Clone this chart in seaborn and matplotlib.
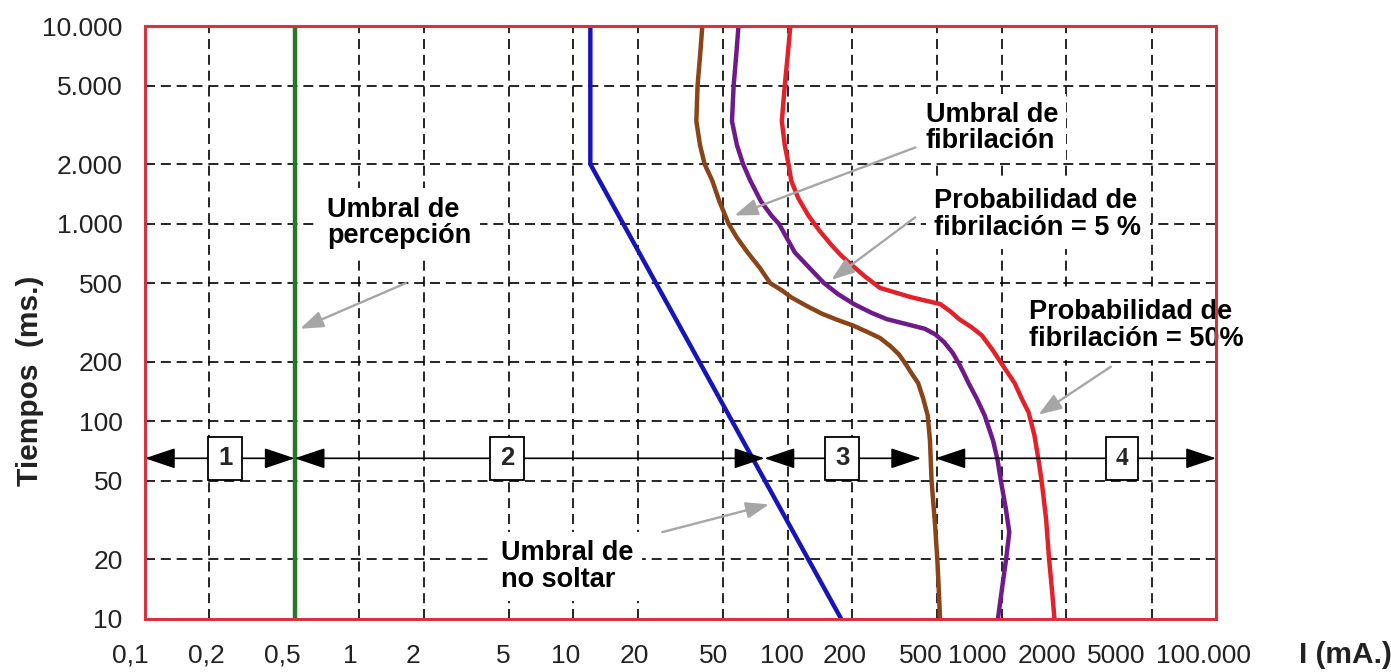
import numpy as np
import pandas as pd
import matplotlib
matplotlib.use("Agg")
import matplotlib.pyplot as plt
from matplotlib.ticker import NullLocator
from matplotlib.transforms import ScaledTranslation
import seaborn as sns

# Corriente (mA) y tiempo (ms)
green_ma = [0.5, 0.5]
green_ms = [10, 10000]

blue_ma = [12, 12, 178]
blue_ms = [10000, 2000, 10]

brown_ma = [40, 39, 38, 37.5, 39, 41, 44.5, 48, 53, 58, 65, 74, 83, 94, 104, 122, 144, 172, 204,
            236, 270, 302, 331, 356, 379, 407, 430, 451, 462, 470, 488, 500, 508, 515]
brown_ms = [10000, 7000, 5000, 3300, 2500, 2000, 1650, 1300, 1000, 850, 716, 600, 500, 460, 424,
            385, 351, 325, 304, 283, 264, 240, 218, 195, 175, 156, 130, 107, 80, 50, 30, 20, 14, 10]

purple_ma = [59, 57.5, 56, 55, 58, 62, 67, 75, 84, 91, 99, 108, 126, 148, 172, 204, 245, 290, 360,
             437, 490, 537, 590, 632, 665, 700, 765, 832, 910, 955, 990, 1045, 1084, 1047, 1000, 959]
purple_ms = [10000, 7000, 5000, 3300, 2500, 2000, 1650, 1300, 1100, 1000, 850, 716, 600, 500, 440,
             392, 355, 329, 310, 294, 275, 252, 222, 195, 175, 156, 130, 107, 80, 64, 50, 36, 27.5,
             20, 14, 10]

red_ma = [103, 100, 97, 94, 97, 101, 104, 112, 125, 141, 160, 178, 198, 230, 270, 379,
          516, 575, 632, 720, 807, 900, 1000, 1070, 1148, 1240, 1334, 1420, 1483, 1534, 1610,
          1663, 1715, 1762]
red_ms = [10000, 7000, 5000, 3300, 2500, 2000, 1650, 1350, 1100, 920, 781, 690, 621, 540, 473,
          424, 392, 360, 329, 300, 272, 232, 195, 175, 156, 130, 111, 85, 64, 50, 32, 20, 14, 10]

x_ticks = [0.1, 0.2, 0.5, 1, 2, 5, 10, 20, 50, 100, 200, 500, 1000, 2000, 5000, 10000]
x_labels = ["0,1", "0,2", "0,5", "1", "2", "5", "10", "20", "50", "100", "200",
            "500", "1000", "2000", "5000", "100.000"]
y_ticks = [10, 20, 50, 100, 200, 500, 1000, 2000, 5000, 10000]
y_labels = ["10", "20", "50", "100", "200", "500", "1.000", "2.000", "5.000", "10.000"]

# Zonas 1-4
zone_names = ["1", "2", "3", "4"]
zone_start = [0.1, 0.5, 78, 490]
zone_end = [0.5, 78, 420, 10000]
zone_box_x = [0.237, 4.9, 180, 3630]
zone_y = 65

# Textos con flecha gris: texto, posicion del texto, cola y punta de la flecha
notes = ["Umbral de\npercepción", "Umbral de\nno soltar", "Umbral de\nfibrilación",
         "Probabilidad de\nfibrilación = 5 %", "Probabilidad de\nfibrilación = 50%"]
note_xy = [(0.71, 1372), (4.6, 25), (442, 4130), (485, 1513), (1335, 414)]
note_tail = [(1.65, 500), (26, 27.5), (395, 2430), (394, 1076), (3230, 189)]
note_tip = [(0.53, 294), (82, 38), (56.5, 1100), (160, 520), (1483, 108)]

sns.set_theme(style="white")
plt.rcParams["font.family"] = ["Liberation Sans", "DejaVu Sans"]

curves = pd.concat([
    pd.DataFrame({"I": green_ma, "t": green_ms, "curva": "percepcion"}),
    pd.DataFrame({"I": blue_ma, "t": blue_ms, "curva": "no soltar"}),
    pd.DataFrame({"I": brown_ma, "t": brown_ms, "curva": "fibrilacion"}),
    pd.DataFrame({"I": purple_ma, "t": purple_ms, "curva": "5%"}),
    pd.DataFrame({"I": red_ma, "t": red_ms, "curva": "50%"}),
])
palette = {"percepcion": "#247a24", "no soltar": "#1515b8", "fibrilacion": "#8a4418",
           "5%": "#6e1a8a", "50%": "#e22228"}

fig = plt.figure(figsize=(13.91, 6.72), dpi=100)
ax = fig.add_axes([0.1042, 0.0789, 0.7700, 0.8824])

sns.lineplot(data=curves, x="I", y="t", hue="curva", palette=palette, units="curva",
             estimator=None, sort=False, linewidth=3.2, legend=False, ax=ax, zorder=4)
for ln in ax.get_lines():
    ln.set_solid_joinstyle("round")
    ln.set_solid_capstyle("butt")

ax.set_xscale("log")
ax.set_yscale("log")
ax.set_xlim(0.1, 10000)
ax.set_ylim(10, 10000)
ax.set_xticks(x_ticks)
ax.set_xticklabels(x_labels)
ax.set_yticks(y_ticks)
ax.set_yticklabels(y_labels)
ax.xaxis.set_minor_locator(NullLocator())
ax.yaxis.set_minor_locator(NullLocator())
ax.tick_params(axis="both", length=0, labelsize=19, labelcolor="#222222")
ax.tick_params(axis="x", pad=18)
ax.tick_params(axis="y", pad=16)
ax.set_xlabel("")
ax.set_ylabel("")

# etiquetas del eje x algo desplazadas a la izquierda, como en el original
nudge_px = [-15, -3, -12, -9, -11, -6, -8, -4, -10, -6, -7, -16, -25, -19, -35, -13]
for lab, dx in zip(ax.get_xticklabels(), nudge_px):
    lab.set_transform(lab.get_transform() + ScaledTranslation(dx / 100, 0, fig.dpi_scale_trans))

ax.set_axisbelow(True)
ax.grid(True, which="major", color="black", linestyle=(0, (6, 3.5)), linewidth=1.2)
for s in ax.spines.values():
    s.set_color("#d6343c")
    s.set_linewidth(2.2)
    s.set_zorder(6)

# zonas con flechas negras
for name, x0, x1, bx in zip(zone_names, zone_start, zone_end, zone_box_x):
    ax.annotate("", xy=(x1, zone_y), xytext=(x0, zone_y),
                arrowprops=dict(arrowstyle="<|-|>,head_length=0.95,head_width=0.32",
                                mutation_scale=20, color="black", lw=1.2,
                                shrinkA=0, shrinkB=0), zorder=5)
    fam = ["Liberation Serif", "DejaVu Serif"] if name == "4" else ["Liberation Sans", "DejaVu Sans"]
    ax.text(bx, zone_y, name, ha="center", va="center", fontsize=18.5, fontweight="bold",
            family=fam, zorder=7,
            bbox=dict(boxstyle="square,pad=0.38", fc="white", ec="black", lw=1.3))

# anotaciones con flechas grises
for txt, pos, tail, tip in zip(notes, note_xy, note_tail, note_tip):
    ax.text(pos[0], pos[1], txt, ha="left", va="top", fontsize=19.5, fontweight="bold",
            linespacing=1.02, color="black", zorder=3,
            bbox=dict(boxstyle="square,pad=0.3", fc="white", ec="none"))
    ax.annotate("", xy=tip, xytext=tail,
                arrowprops=dict(arrowstyle="-|>,head_length=0.7,head_width=0.25",
                                mutation_scale=20, color="#a6a6a6", lw=1.7,
                                shrinkA=0, shrinkB=0), zorder=5)

fig.text(30 / 1391, 1 - 381 / 672, "Tiempos  (ms.)", rotation=90, ha="center", va="center",
         fontsize=21.5, fontweight="bold", color="#222222")
fig.text(1345 / 1391, 1 - 655 / 672, "I (mA.)", ha="center", va="center",
         fontsize=21.5, fontweight="bold", color="#222222")

fig.savefig("out.png", dpi=100, facecolor="white")
